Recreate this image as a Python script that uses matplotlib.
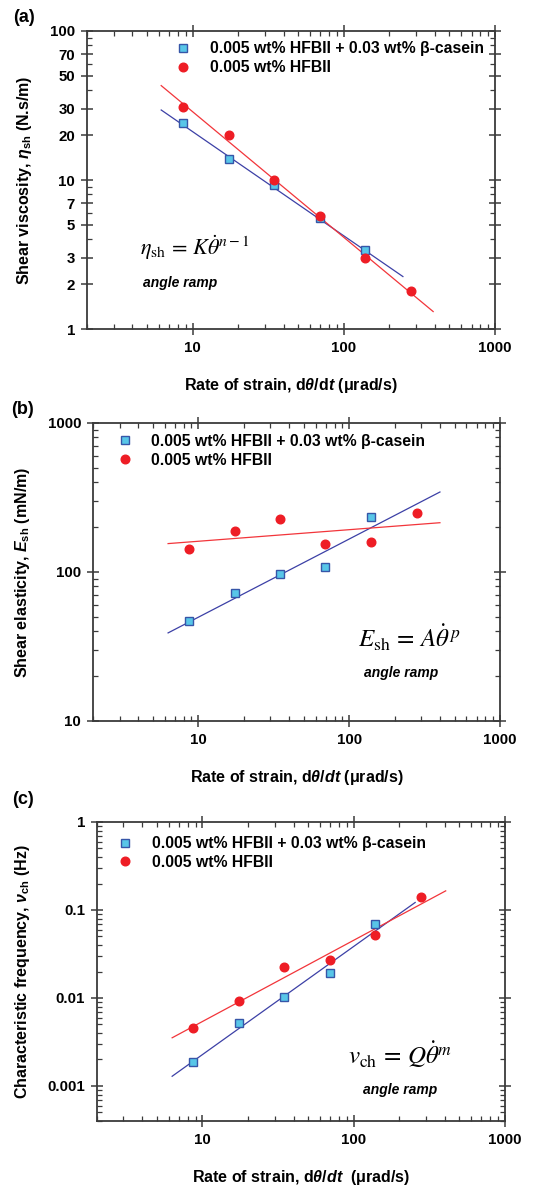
"""Shear rheology of HFBII layers vs. rate of strain (angle ramp), three stacked log-log panels."""

import matplotlib

matplotlib.use("Agg")
import matplotlib.pyplot as plt
from matplotlib.ticker import FixedLocator, LogLocator, NullFormatter

plt.rcParams["font.family"] = ["Liberation Sans", "DejaVu Sans"]
plt.rcParams["mathtext.fontset"] = "custom"
plt.rcParams["mathtext.rm"] = "Liberation Sans:bold"
plt.rcParams["mathtext.it"] = "Liberation Sans:bold:italic"
plt.rcParams["mathtext.bf"] = "Liberation Sans:bold"

# rate of strain, urad/s
rate_mix = [8.7, 17.4, 34.8, 69.6, 139]
rate_hfb = [8.7, 17.4, 34.8, 69.6, 139, 280]

# (a) shear viscosity, N.s/m
visc_mix = [24.3, 13.8, 9.2, 5.6, 3.4]
visc_hfb = [31, 20.2, 9.95, 5.7, 3.0, 1.81]
visc_fit_mix_x = [6.2, 246]
visc_fit_mix_y = [29.5, 2.25]
visc_fit_hfb_x = [6.2, 390]
visc_fit_hfb_y = [43, 1.31]

# (b) shear elasticity, mN/m
elast_mix = [46.8, 72, 97, 108, 234]
elast_hfb = [143, 188, 225, 154, 158, 249]
elast_fit_mix_x = [6.3, 400]
elast_fit_mix_y = [39, 344]
elast_fit_hfb_x = [6.3, 400]
elast_fit_hfb_y = [155, 214]

# (c) characteristic frequency, Hz
freq_mix = [0.00188, 0.00519, 0.01036, 0.0194, 0.069]
freq_hfb = [0.00459, 0.00933, 0.0227, 0.0273, 0.0526, 0.1387]
freq_fit_mix_x = [6.3, 255]
freq_fit_mix_y = [0.00129, 0.1217]
freq_fit_hfb_x = [6.3, 406]
freq_fit_hfb_y = [0.00353, 0.165]

label_mix = "0.005 wt% HFBII + 0.03 wt% β-casein"
label_hfb = "0.005 wt% HFBII"

x_ticks = [10, 100, 1000]
visc_ticks = [1, 2, 3, 5, 7, 10, 20, 30, 50, 70, 100]
elast_ticks = [10, 100, 1000]
freq_ticks = [0.001, 0.01, 0.1, 1]
freq_tick_labels = ["0.001", "0.01", "0.1", "1"]

SQ_FACE = "#58c6e8"
SQ_EDGE = "#3656a8"
RED = "#ee1d25"
BLUE_LINE = "#3c40a6"
RED_LINE = "#f2353a"
SPINE = "#3a3a3a"


def style_axes(ax, ylim, yticks, ylabels):
    ax.set_xscale("log")
    ax.set_yscale("log")
    ax.set_xlim(2, 1000)
    ax.set_ylim(*ylim)
    for spine in ax.spines.values():
        spine.set_color(SPINE)
        spine.set_linewidth(1.3)
    ax.xaxis.set_major_locator(FixedLocator(x_ticks))
    ax.set_xticklabels([str(t) for t in x_ticks])
    ax.xaxis.set_minor_locator(LogLocator(base=10, subs=range(2, 10), numticks=20))
    ax.xaxis.set_minor_formatter(NullFormatter())
    ax.yaxis.set_major_locator(FixedLocator(yticks))
    ax.set_yticklabels(ylabels)
    ax.yaxis.set_minor_locator(LogLocator(base=10, subs=range(2, 10), numticks=20))
    ax.yaxis.set_minor_formatter(NullFormatter())
    ax.tick_params(which="major", direction="inout", length=9, width=1.1, color=SPINE,
                   top=True, right=True, labelsize=10.8, pad=4)
    ax.tick_params(which="minor", direction="in", length=3.5, width=0.9, color=SPINE,
                   top=True, right=True)
    for lbl in ax.get_xticklabels() + ax.get_yticklabels():
        lbl.set_fontweight("bold")


def draw_panel(ax, y_mix, y_hfb, fmx, fmy, fhx, fhy):
    ax.plot(fmx, fmy, color=BLUE_LINE, lw=0.9, zorder=2)
    ax.plot(fhx, fhy, color=RED_LINE, lw=0.9, zorder=2)
    ax.plot(rate_mix, y_mix, ls="none", marker="s", ms=5.2, mfc=SQ_FACE, mec=SQ_EDGE,
            mew=1.0, label=label_mix, zorder=3)
    ax.plot(rate_hfb, y_hfb, ls="none", marker="o", ms=6.2, mfc=RED, mec=RED,
            label=label_hfb, zorder=3)


def add_legend(ax, x0, y0):
    ax.legend(loc="upper left", bbox_to_anchor=(x0, y0), frameon=False,
              handlelength=1.0, handletextpad=1.2, labelspacing=0.25, borderpad=0,
              borderaxespad=0, prop={"weight": "bold", "size": 11.3})


def add_formula(ax, x, y, formula, size):
    ax.text(x, y, formula, transform=ax.transAxes, fontsize=size, fontweight="normal",
            math_fontfamily="stix", va="center")


def add_ramp(ax, x, y):
    ax.text(x, y, "angle ramp", transform=ax.transAxes, fontsize=10,
            fontstyle="italic", fontweight="bold", va="center")


def add_labels(ax, xlabel, ylabel, ylab_x):
    ax.set_xlabel(xlabel, fontsize=11.5, fontweight="bold")
    ax.xaxis.set_label_coords(0.5, -0.188)
    ax.xaxis.label.set_va("center")
    ax.set_ylabel(ylabel, fontsize=11.5, fontweight="bold")
    ax.yaxis.set_label_coords(ylab_x, 0.5)
    ax.yaxis.label.set_va("center")


fig = plt.figure(figsize=(5.5, 11.87), dpi=100)

ax_a = fig.add_axes([0.158, 0.7228, 0.742, 0.2511])
ax_b = fig.add_axes([0.169, 0.3926, 0.740, 0.2511])
ax_c = fig.add_axes([0.176, 0.0556, 0.742, 0.2519])

# (a)
draw_panel(ax_a, visc_mix, visc_hfb, visc_fit_mix_x, visc_fit_mix_y,
           visc_fit_hfb_x, visc_fit_hfb_y)
style_axes(ax_a, (1, 100), visc_ticks, [str(t) for t in visc_ticks])
add_legend(ax_a, 0.217, 0.966)
add_formula(ax_a, 0.13, 0.272, r"$\eta_{\rm sh}\,=\,K\dot{\theta}^{n-1}$", 16)
add_ramp(ax_a, 0.137, 0.154)
add_labels(ax_a, r"Rate of strain, d$\theta$/d$t$ (μrad/s)",
           r"Shear viscosity, $\eta_{\rm sh}$ (N.s/m)", -0.152)

# (b)
draw_panel(ax_b, elast_mix, elast_hfb, elast_fit_mix_x, elast_fit_mix_y,
           elast_fit_hfb_x, elast_fit_hfb_y)
style_axes(ax_b, (10, 1000), elast_ticks, [str(t) for t in elast_ticks])
add_legend(ax_b, 0.059, 0.963)
add_formula(ax_b, 0.651, 0.279, r"$E_{\rm sh}\,=\,A\dot{\theta}^{\,p}$", 18)
add_ramp(ax_b, 0.666, 0.161)
add_labels(ax_b, r"Rate of strain, d$\theta$/$dt$ (μrad/s)",
           r"Shear elasticity, $E_{\rm sh}$ (mN/m)", -0.172)

# (c)
draw_panel(ax_c, freq_mix, freq_hfb, freq_fit_mix_x, freq_fit_mix_y,
           freq_fit_hfb_x, freq_fit_hfb_y)
style_axes(ax_c, (0.0004, 1), freq_ticks, freq_tick_labels)
add_legend(ax_c, 0.051, 0.953)
add_formula(ax_c, 0.615, 0.221, r"$v_{\rm ch}\,=\,Q\dot{\theta}^{m}$", 18)
add_ramp(ax_c, 0.652, 0.104)
add_labels(ax_c, r"Rate of strain, d$\theta$/$dt$  (μrad/s)",
           r"Characteristic frequency, $\nu_{\rm ch}$ (Hz)", -0.181)

for tag, (px, py) in zip(["(a)", "(b)", "(c)"], [(24, 17), (23, 410), (23, 800)]):
    fig.text(px / 550, 1 - py / 1187, tag, fontsize=13, fontweight="bold",
             ha="center", va="center")

fig.savefig("out.png", dpi=100)
